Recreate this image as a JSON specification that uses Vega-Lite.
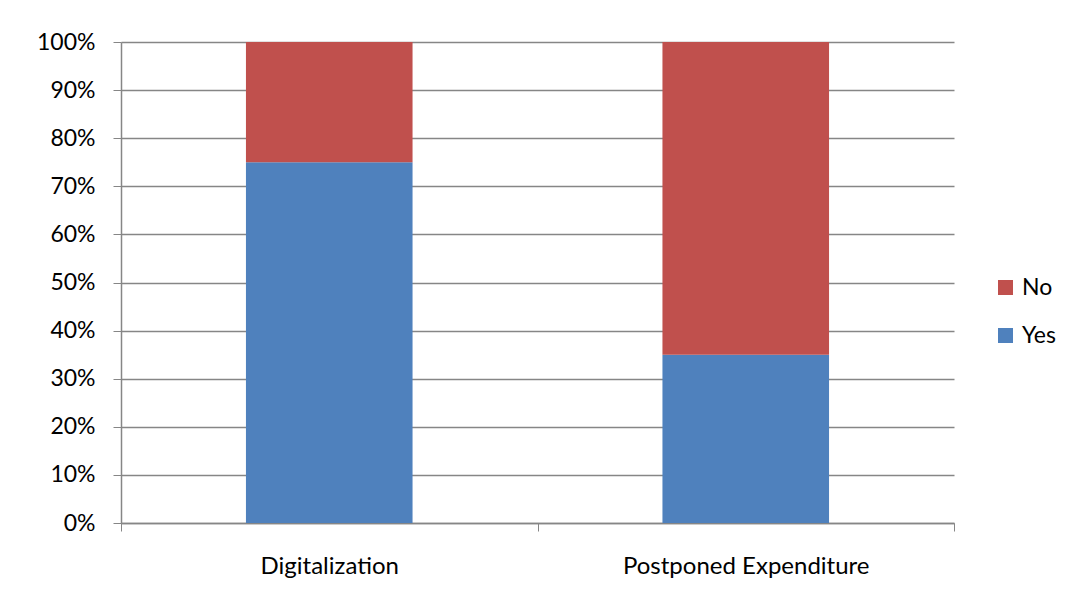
{
  "$schema": "https://vega.github.io/schema/vega-lite/v6.json",
  "width": 833,
  "height": 481,
  "autosize": {"type": "none"},
  "padding": {"left": 121, "top": 42, "right": 118, "bottom": 82},
  "background": "white",
  "config": {
    "view": {"stroke": null},
    "font": "Lato",
    "axis": {
      "domainColor": "#868686",
      "tickColor": "#868686",
      "gridColor": "#868686",
      "labelColor": "#000000",
      "labelFont": "Lato",
      "labelFontSize": 23,
      "labelLimit": 0,
      "tickSize": 8
    }
  },
  "data": {
    "values": [
      {"category": "Digitalization", "answer": "Yes", "share": 0.75},
      {"category": "Digitalization", "answer": "No", "share": 0.25},
      {"category": "Postponed Expenditure", "answer": "Yes", "share": 0.35},
      {"category": "Postponed Expenditure", "answer": "No", "share": 0.65}
    ]
  },
  "mark": {"type": "bar", "width": {"band": 0.4}},
  "encoding": {
    "x": {
      "field": "category",
      "type": "nominal",
      "sort": null,
      "title": null,
      "scale": {"paddingInner": 0, "paddingOuter": 0},
      "axis": {
        "labelAngle": 0,
        "labelFontSize": 24,
        "tickBand": "extent",
        "grid": false,
        "labelPadding": 23,
        "domainWidth": 1.5
      }
    },
    "y": {
      "field": "share",
      "type": "quantitative",
      "stack": true,
      "title": null,
      "scale": {"domain": [0, 1], "nice": false},
      "axis": {
        "format": ".0%",
        "values": [0, 0.1, 0.2, 0.3, 0.4, 0.5, 0.6, 0.7, 0.8, 0.9, 1],
        "grid": true,
        "gridWidth": 1.5,
        "domainWidth": 1.5,
        "labelPadding": 18
      }
    },
    "color": {
      "field": "answer",
      "type": "nominal",
      "title": null,
      "scale": {"domain": ["No", "Yes"], "range": ["#C0504D", "#4F81BD"]},
      "legend": {
        "orient": "none",
        "legendX": 873,
        "legendY": 234,
        "symbolType": "square",
        "symbolSize": 225,
        "symbolFillOpacity": 1,
        "symbolStrokeWidth": 0,
        "labelFontSize": 23,
        "labelFont": "Lato",
        "labelColor": "#000000",
        "rowPadding": 24,
        "labelOffset": 5
      }
    },
    "order": {"field": "answer", "sort": "descending"}
  }
}
